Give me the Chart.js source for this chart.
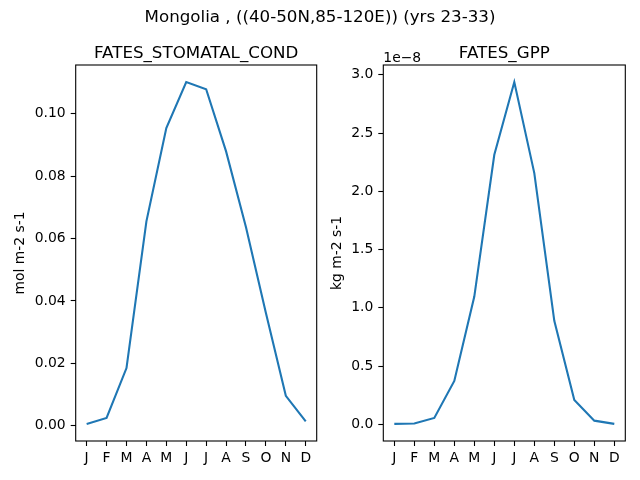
<!DOCTYPE html>
<html>
<head>
<meta charset="utf-8">
<script src="https://cdn.jsdelivr.net/npm/chart.js@4.4.0/dist/chart.umd.min.js"></script>
<style>
  html, body { margin: 0; padding: 0; background: #ffffff; }
  #wrap { position: relative; width: 640px; height: 480px; overflow: hidden; background: #fff; }
  #sup { position: absolute; left: 0; top: 6px; width: 640px; text-align: center;
         font-family: "DejaVu Sans", sans-serif; font-size: 16.7px; line-height: 20px; color: #000; z-index: 2; }
  canvas { position: absolute; top: 0; }
  #c1 { left: 0; }
  #c2 { left: 320px; }
</style>
</head>
<body>
<div id="wrap">
  <div id="sup">Mongolia , ((40-50N,85-120E)) (yrs 23-33)</div>
  <canvas id="c1" width="320" height="480"></canvas>
  <canvas id="c2" width="320" height="480"></canvas>
</div>
<script>
// ---- data ----
const months = ["J", "F", "M", "A", "M", "J", "J", "A", "S", "O", "N", "D"];
const stomatalCond = [0.0006, 0.0025, 0.0185, 0.0655, 0.0954, 0.1101, 0.1078, 0.0879, 0.0636, 0.0361, 0.0096, 0.0014];
const gpp = [0.003e-8, 0.006e-8, 0.054e-8, 0.372e-8, 1.096e-8, 2.313e-8, 2.937e-8, 2.156e-8, 0.888e-8, 0.209e-8, 0.031e-8, 0.003e-8];
const stomatalTicks = [0.00, 0.02, 0.04, 0.06, 0.08, 0.10];
const gppTicks = [0.0e-8, 0.5e-8, 1.0e-8, 1.5e-8, 2.0e-8, 2.5e-8, 3.0e-8];
const titles = ["FATES_STOMATAL_COND", "FATES_GPP"];
const yLabels = ["mol m-2 s-1", "kg m-2 s-1"];

const FONT = "DejaVu Sans";

function margins(arr) {
  const mn = Math.min(...arr), mx = Math.max(...arr);
  const m = (mx - mn) * 0.05;
  return [mn - m, mx + m];
}

const framePlugin = {
  id: 'frame',
  afterDraw(chart, args, opts) {
    const a = chart.chartArea, ctx = chart.ctx;
    ctx.save();
    ctx.strokeStyle = '#000';
    ctx.lineWidth = 1.1;
    ctx.strokeRect(a.left, a.top, a.right - a.left, a.bottom - a.top);
    ctx.fillStyle = '#000';
    if (opts && opts.title) {
      ctx.font = '16.7px "' + FONT + '"';
      ctx.textAlign = 'center';
      ctx.textBaseline = 'alphabetic';
      ctx.fillText(opts.title, (a.left + a.right) / 2, a.top - 7);
    }
    if (opts && opts.offsetText) {
      ctx.font = '13.9px "' + FONT + '"';
      ctx.textAlign = 'left';
      ctx.textBaseline = 'alphabetic';
      ctx.fillText(opts.offsetText, a.left, a.top - 3);
    }
    ctx.restore();
  }
};

function makeChart(id, values, ticks, title, ylabel, yAxisWidth, padRight, labelPad, fmt, offsetText) {
  const [ymin, ymax] = margins(values);
  const pts = values.map((v, i) => ({ x: i, y: v }));
  return new Chart(document.getElementById(id), {
    type: 'line',
    data: {
      datasets: [{
        data: pts,
        borderColor: '#1f77b4',
        borderWidth: 2.1,
        pointRadius: 0,
        tension: 0,
        fill: false
      }]
    },
    options: {
      responsive: false,
      animation: false,
      devicePixelRatio: 1,
      layout: { padding: { left: 0, right: padRight, top: 65, bottom: 0 } },
      plugins: {
        legend: { display: false },
        tooltip: { enabled: false },
        title: { display: false },
        frame: { offsetText: offsetText, title: title }
      },
      scales: {
        x: {
          type: 'linear',
          min: -0.55,
          max: 11.55,
          afterBuildTicks(scale) { scale.ticks = months.map((m, i) => ({ value: i })); },
          afterFit(scale) { scale.height = 39; },
          border: { display: false },
          grid: { display: true, drawOnChartArea: false, drawTicks: true, tickLength: 5, tickColor: '#000', tickWidth: 1.1 },
          ticks: {
            color: '#000',
            font: { family: FONT, size: 13.9 },
            padding: 4,
            maxRotation: 0,
            autoSkip: false,
            callback: (v) => months[v]
          }
        },
        y: {
          type: 'linear',
          min: ymin,
          max: ymax,
          afterBuildTicks(scale) { scale.ticks = ticks.map(v => ({ value: v })); },
          afterFit(scale) { scale.width = yAxisWidth; },
          border: { display: false },
          grid: { display: true, drawOnChartArea: false, drawTicks: true, tickLength: 5, tickColor: '#000', tickWidth: 1.1 },
          ticks: {
            color: '#000',
            font: { family: FONT, size: 13.9 },
            padding: 5,
            autoSkip: false,
            callback: fmt
          },
          title: {
            display: true,
            text: ylabel,
            color: '#000',
            font: { family: FONT, size: 13.9 },
            padding: { top: labelPad, bottom: 0 }
          }
        }
      }
    },
    plugins: [framePlugin]
  });
}

makeChart('c1', stomatalCond, stomatalTicks, titles[0], yLabels[0], 75.7, 3.3, 12.2,
  (v) => Number(v).toFixed(2), null);
makeChart('c2', gpp, gppTicks, titles[1], yLabels[1], 63.3, 14.7, 9.2,
  (v) => (Number(v) / 1e-8).toFixed(1), '1e\u22128');
</script>
</body>
</html>
